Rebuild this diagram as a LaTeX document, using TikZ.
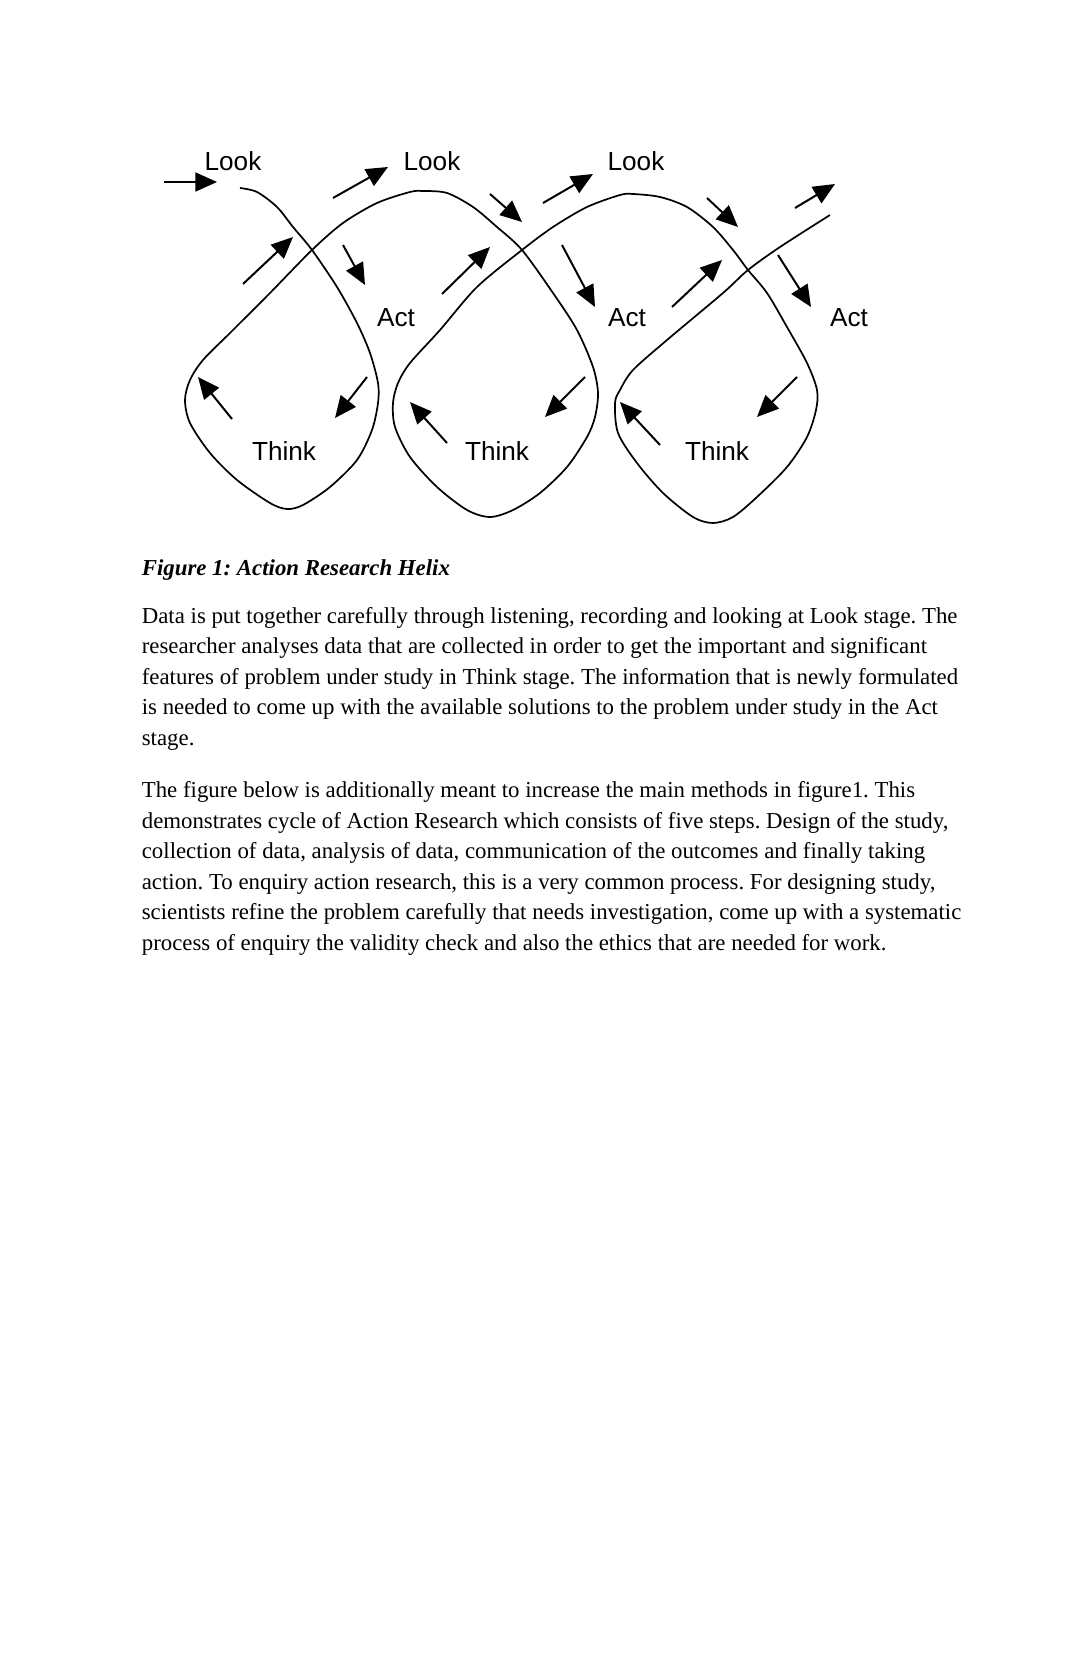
\documentclass[tikz,border=0pt]{standalone}
\usepackage{fontspec}
\setmainfont{Liberation Serif}
\newfontfamily\stagefont{Liberation Sans}
\usetikzlibrary{arrows.meta}

\tikzset{
  stage/.style={font=\stagefont\fontsize{14.5}{17}\selectfont, inner sep=0pt},
  flow/.style={-{Triangle[length=12pt, width=10.5pt]}, line width=1.1pt},
  helix/.style={line width=0.95pt, line join=round},
  bodytext/.style={font=\fontsize{12.65}{16.9}\selectfont\frenchspacing, align=left, inner sep=0pt, anchor=base west}
}

\begin{document}
\begin{tikzpicture}[x=0.5543pt, y=-0.5543pt]
  \useasboundingbox[fill=white] (0,0) rectangle (1078,1666);

  \node[stage] (look1) at (233,161) {Look};
  \node[stage] (look2) at (432,161) {Look};
  \node[stage] (look3) at (636,161) {Look};
  \node[stage] (act1) at (396,318) {Act};
  \node[stage] (act2) at (627,318) {Act};
  \node[stage] (act3) at (849,318) {Act};
  \node[stage] (think1) at (284,451) {Think};
  \node[stage] (think2) at (497,451) {Think};
  \node[stage] (think3) at (717,451) {Think};

  \draw[helix] plot[smooth, tension=0.5] coordinates {
    (240,188) (257,192) (277,207) (293,227) (312,250) (337,287) (357,323) (370,353)
    (378,383) (378,403) (372,430) (357,460) (330,487) (303,505) (287,509) (270,503)
    (237,480) (210,453) (190,423) (185,400) (190,380) (203,360) (230,333) (270,293)
    (312,250) (343,223) (377,203) (410,192) (423,191) (447,193) (473,207) (497,227)
    (522,250) (553,293) (577,330) (593,367) (598,393) (595,417) (587,437) (567,467)
    (540,493) (513,510) (490,517) (467,510) (437,487) (410,457) (395,427) (393,403)
    (398,383) (410,363) (440,330) (477,287) (522,250) (553,227) (587,207) (620,195)
    (633,194) (660,197) (687,207) (713,227) (733,250) (748,270) (767,293) (787,327)
    (807,363) (817,390) (816,410) (807,437) (787,467) (757,497) (733,517) (713,523)
    (693,517) (663,493) (637,463) (618,433) (615,403) (620,390) (633,370) (667,340)
    (723,293) (748,270) (780,247) (830,215)};

  \draw[flow] (164,182) -- (217,182);
  \draw[flow] (243,284) -- (293,237);
  \draw[flow] (343,245) -- (365,285);
  \draw[flow] (333,198) -- (388,167);
  \draw[flow] (490,194) -- (522,222);
  \draw[flow] (442,294) -- (490,247);
  \draw[flow] (367,377) -- (335,418);
  \draw[flow] (232,419) -- (198,377);
  \draw[flow] (447,443) -- (410,402);
  \draw[flow] (543,203) -- (593,174);
  \draw[flow] (562,245) -- (595,307);
  \draw[flow] (672,307) -- (722,260);
  \draw[flow] (707,198) -- (738,227);
  \draw[flow] (795,208) -- (835,184);
  \draw[flow] (778,255) -- (811,307);
  \draw[flow] (585,377) -- (545,417);
  \draw[flow] (797,377) -- (757,417);
  \draw[flow] (660,445) -- (620,402);

  \node[bodytext] (caption) at (141.5,575.5) {\textbf{\textit{Figure 1: Action Research Helix}}};
  \node[bodytext] (para1) at (141.5,745) {Data is put together carefully through listening, recording and looking at Look stage. The\\
    researcher analyses data that are collected in order to get the important and significant\\
    features of problem under study in Think stage. The information that is newly formulated\\
    is needed to come up with the available solutions to the problem under study in the Act\\
    stage.};
  \node[bodytext] (para2) at (141.5,950) {The figure below is additionally meant to increase the main methods in figure1. This\\
    demonstrates cycle of Action Research which consists of five steps. Design of the study,\\
    collection of data, analysis of data, communication of the outcomes and finally taking\\
    action. To enquiry action research, this is a very common process. For designing study,\\
    scientists refine the problem carefully that needs investigation, come up with a systematic\\
    process of enquiry the validity check and also the ethics that are needed for work.};
\end{tikzpicture}
\end{document}
